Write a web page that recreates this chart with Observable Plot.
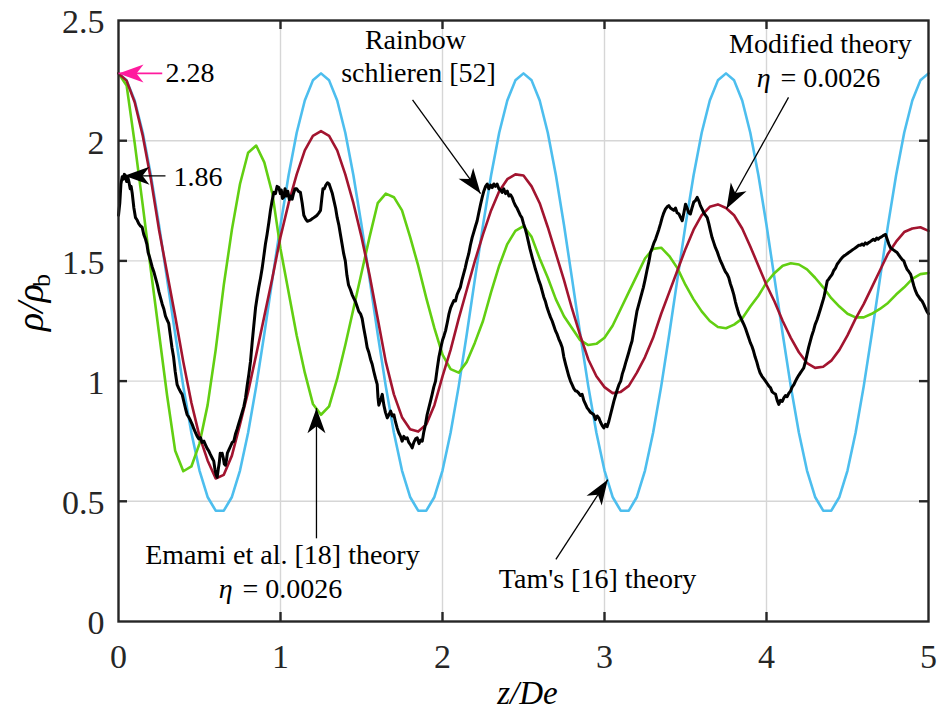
<!DOCTYPE html>
<html><head><meta charset="utf-8">
<script src="https://cdn.jsdelivr.net/npm/d3@7"></script>
<script src="https://cdn.jsdelivr.net/npm/@observablehq/plot@0.6"></script>
<style>body{margin:0;background:#fff}#chart svg{display:block}</style>
</head><body><div id="chart"></div>
<script>
const zTicks = [0, 1, 2, 3, 4, 5];
const rhoTicks = [0, 0.5, 1, 1.5, 2, 2.5];

const zTheory = [0,0.05,0.1,0.15,0.2,0.25,0.3,0.35,0.4,0.45,0.5,0.55,0.6,0.65,0.7,0.75,0.8,0.85,0.9,0.95,
1,1.05,1.1,1.15,1.2,1.25,1.3,1.35,1.4,1.45,1.5,1.55,1.6,1.65,1.7,1.75,1.8,1.85,1.9,1.95,
2,2.05,2.1,2.15,2.2,2.25,2.3,2.35,2.4,2.45,2.5,2.55,2.6,2.65,2.7,2.75,2.8,2.85,2.9,2.95,
3,3.05,3.1,3.15,3.2,3.25,3.3,3.35,3.4,3.45,3.5,3.55,3.6,3.65,3.7,3.75,3.8,3.85,3.9,3.95,
4,4.05,4.1,4.15,4.2,4.25,4.3,4.35,4.4,4.45,4.5,4.55,4.6,4.65,4.7,4.75,4.8,4.85,4.9,4.95,5];

// Tam's [16] theory
const tamRho = [2.28,2.251,2.167,2.033,1.856,1.649,1.424,1.196,0.978,0.785,0.628,0.518,0.461,0.461,0.518,0.628,0.785,0.978,1.196,1.424,1.649,1.856,2.033,2.167,2.251,
2.28,2.251,2.167,2.033,1.856,1.649,1.424,1.196,0.978,0.785,0.628,0.518,0.461,0.461,0.518,0.628,0.785,0.978,1.196,1.424,1.649,1.856,2.033,2.167,2.251,
2.28,2.251,2.167,2.033,1.856,1.649,1.424,1.196,0.978,0.785,0.628,0.518,0.461,0.461,0.518,0.628,0.785,0.978,1.196,1.424,1.649,1.856,2.033,2.167,2.251,
2.28,2.251,2.167,2.033,1.856,1.649,1.424,1.196,0.978,0.785,0.628,0.518,0.461,0.461,0.518,0.628,0.785,0.978,1.196,1.424,1.649,1.856,2.033,2.167,2.251,
2.28];

// Emami et al. [18] theory, eta = 0.0026
const emamiRho = [2.28,2.23,1.99,1.73,1.46,1.20,0.94,0.71,0.625,0.645,0.74,0.90,1.13,1.40,1.63,1.82,1.95,1.98,1.91,1.78,
1.55,1.37,1.19,1.035,0.905,0.86,0.895,1.01,1.15,1.30,1.45,1.60,1.74,1.78,1.765,1.71,1.60,1.48,1.345,1.22,
1.11,1.05,1.035,1.08,1.16,1.25,1.37,1.48,1.57,1.625,1.645,1.60,1.51,1.43,1.34,1.27,1.22,1.17,1.15,1.155,
1.18,1.23,1.30,1.37,1.44,1.51,1.55,1.555,1.52,1.47,1.40,1.34,1.29,1.25,1.225,1.22,1.235,1.26,1.31,1.355,
1.41,1.45,1.48,1.49,1.485,1.465,1.43,1.39,1.345,1.31,1.28,1.265,1.265,1.28,1.30,1.325,1.36,1.39,1.425,1.445,1.45];

// Modified theory, eta = 0.0026
const modifiedRho = [2.28,2.25,2.16,2.02,1.84,1.63,1.45,1.27,1.08,0.91,0.77,0.67,0.595,0.61,0.69,0.82,0.955,1.11,1.27,1.43,
1.60,1.74,1.86,1.96,2.02,2.04,2.02,1.96,1.86,1.74,1.60,1.44,1.26,1.08,0.945,0.85,0.80,0.79,0.82,0.90,
1.02,1.13,1.26,1.38,1.50,1.61,1.71,1.79,1.84,1.86,1.855,1.81,1.74,1.64,1.53,1.42,1.30,1.19,1.09,1.02,
0.975,0.95,0.955,0.98,1.035,1.10,1.18,1.28,1.37,1.46,1.55,1.63,1.69,1.725,1.735,1.72,1.69,1.635,1.56,1.48,
1.40,1.33,1.25,1.18,1.12,1.075,1.055,1.06,1.085,1.13,1.19,1.26,1.32,1.39,1.46,1.53,1.58,1.62,1.635,1.64,1.625];

// Rainbow schlieren [52] measurement: [z/De, rho/rho_b]
const schlierenPoints = [
[0,1.69],[0.008,1.74],[0.015,1.82],[0.023,1.85],[0.03,1.84],[0.036,1.86],[0.043,1.855],[0.05,1.83],[0.057,1.85],[0.064,1.83],
[0.072,1.80],[0.078,1.81],[0.085,1.78],[0.095,1.72],[0.105,1.68],[0.115,1.67],[0.125,1.655],[0.136,1.645],[0.146,1.64],[0.156,1.61],
[0.167,1.59],[0.175,1.57],[0.183,1.535],[0.19,1.52],[0.198,1.50],[0.208,1.475],[0.218,1.455],[0.228,1.43],[0.24,1.40],[0.25,1.37],
[0.26,1.345],[0.27,1.32],[0.28,1.30],[0.29,1.27],[0.3,1.255],[0.31,1.24],[0.32,1.19],[0.33,1.14],[0.34,1.10],[0.35,1.04],
[0.362,0.985],[0.372,0.97],[0.383,0.955],[0.393,0.945],[0.405,0.91],[0.414,0.885],[0.424,0.86],[0.434,0.85],[0.445,0.835],[0.455,0.82],
[0.466,0.80],[0.476,0.785],[0.486,0.77],[0.496,0.76],[0.506,0.765],[0.516,0.745],[0.527,0.75],[0.537,0.735],[0.547,0.72],[0.557,0.71],
[0.567,0.695],[0.578,0.68],[0.588,0.667],[0.596,0.63],[0.603,0.61],[0.609,0.60],[0.615,0.63],[0.622,0.66],[0.628,0.70],[0.634,0.69],
[0.64,0.70],[0.647,0.68],[0.653,0.655],[0.66,0.65],[0.666,0.67],[0.672,0.70],[0.682,0.715],[0.692,0.73],[0.702,0.745],[0.712,0.75],
[0.722,0.78],[0.732,0.80],[0.743,0.825],[0.753,0.847],[0.763,0.87],[0.774,0.895],[0.784,0.93],[0.794,0.98],[0.805,1.03],[0.815,1.083],
[0.825,1.16],[0.835,1.23],[0.846,1.305],[0.856,1.35],[0.866,1.39],[0.877,1.43],[0.887,1.47],[0.897,1.52],[0.907,1.57],[0.917,1.61],
[0.928,1.66],[0.938,1.71],[0.948,1.75],[0.959,1.785],[0.969,1.78],[0.979,1.81],[0.99,1.805],[0.999,1.78],[1.005,1.795],[1.012,1.76],
[1.02,1.765],[1.028,1.80],[1.036,1.77],[1.045,1.79],[1.055,1.755],[1.064,1.77],[1.072,1.757],[1.08,1.78],[1.09,1.80],[1.1,1.80],
[1.11,1.79],[1.123,1.785],[1.134,1.74],[1.144,1.69],[1.155,1.675],[1.165,1.665],[1.175,1.667],[1.185,1.67],[1.195,1.675],[1.206,1.68],
[1.216,1.685],[1.226,1.69],[1.237,1.70],[1.247,1.71],[1.255,1.76],[1.262,1.80],[1.27,1.80],[1.28,1.815],[1.29,1.825],[1.3,1.82],
[1.31,1.80],[1.32,1.78],[1.33,1.75],[1.34,1.72],[1.35,1.68],[1.36,1.65],[1.37,1.61],[1.38,1.57],[1.39,1.53],[1.4,1.50],
[1.41,1.44],[1.42,1.40],[1.432,1.38],[1.442,1.36],[1.452,1.345],[1.463,1.33],[1.473,1.31],[1.483,1.29],[1.494,1.28],[1.504,1.26],
[1.514,1.22],[1.525,1.18],[1.535,1.14],[1.545,1.12],[1.556,1.09],[1.566,1.07],[1.576,1.04],[1.587,1.01],[1.597,0.986],[1.602,0.93],
[1.607,0.90],[1.617,0.92],[1.628,0.945],[1.638,0.90],[1.648,0.87],[1.659,0.847],[1.669,0.86],[1.68,0.875],[1.69,0.855],[1.7,0.86],
[1.71,0.83],[1.72,0.805],[1.73,0.785],[1.741,0.77],[1.751,0.75],[1.761,0.77],[1.772,0.76],[1.782,0.764],[1.792,0.745],[1.803,0.735],
[1.813,0.722],[1.823,0.745],[1.834,0.76],[1.844,0.764],[1.855,0.74],[1.865,0.755],[1.875,0.75],[1.885,0.79],[1.895,0.82],[1.905,0.86],
[1.916,0.89],[1.926,0.917],[1.936,0.945],[1.946,0.975],[1.957,1.0],[1.967,1.05],[1.978,1.10],[1.99,1.14],[2.0,1.17],[2.01,1.19],
[2.019,1.21],[2.03,1.245],[2.04,1.28],[2.05,1.305],[2.06,1.32],[2.07,1.335],[2.08,1.333],[2.09,1.36],[2.1,1.375],[2.11,1.39],
[2.12,1.42],[2.13,1.445],[2.14,1.47],[2.15,1.50],[2.162,1.53],[2.172,1.565],[2.183,1.597],[2.193,1.62],[2.204,1.645],[2.214,1.667],
[2.224,1.70],[2.235,1.735],[2.245,1.764],[2.255,1.79],[2.266,1.81],[2.276,1.82],[2.286,1.80],[2.297,1.815],[2.307,1.805],[2.317,1.82],
[2.327,1.81],[2.337,1.82],[2.348,1.80],[2.358,1.795],[2.368,1.785],[2.378,1.80],[2.389,1.78],[2.4,1.79],[2.41,1.77],[2.42,1.775],
[2.43,1.764],[2.44,1.745],[2.45,1.73],[2.46,1.72],[2.47,1.705],[2.48,1.69],[2.49,1.68],[2.5,1.655],[2.51,1.635],[2.52,1.61],
[2.53,1.58],[2.54,1.55],[2.554,1.514],[2.564,1.49],[2.574,1.465],[2.584,1.444],[2.594,1.42],[2.605,1.40],[2.615,1.375],[2.625,1.35],
[2.636,1.33],[2.646,1.305],[2.656,1.285],[2.667,1.265],[2.677,1.25],[2.687,1.23],[2.697,1.21],[2.708,1.194],[2.718,1.175],[2.728,1.16],
[2.739,1.14],[2.749,1.10],[2.76,1.07],[2.77,1.045],[2.78,1.02],[2.79,1.0],[2.8,0.985],[2.81,0.97],[2.82,0.96],[2.83,0.958],
[2.841,0.95],[2.851,0.94],[2.862,0.945],[2.872,0.92],[2.882,0.905],[2.893,0.889],[2.903,0.88],[2.913,0.87],[2.924,0.865],[2.934,0.86],
[2.944,0.84],[2.955,0.855],[2.965,0.847],[2.975,0.83],[2.986,0.815],[2.996,0.805],[3.006,0.82],[3.016,0.81],[3.027,0.833],[3.037,0.86],
[3.048,0.89],[3.058,0.917],[3.068,0.94],[3.079,0.965],[3.089,0.985],[3.1,1.0],[3.11,1.03],[3.12,1.05],[3.13,1.075],[3.14,1.097],
[3.15,1.12],[3.16,1.145],[3.17,1.167],[3.18,1.21],[3.19,1.25],[3.2,1.29],[3.21,1.315],[3.22,1.34],[3.23,1.365],[3.24,1.39],
[3.25,1.42],[3.262,1.46],[3.275,1.5],[3.284,1.535],[3.295,1.555],[3.305,1.575],[3.315,1.59],[3.325,1.61],[3.335,1.63],[3.346,1.655],
[3.356,1.68],[3.366,1.70],[3.376,1.715],[3.387,1.725],[3.397,1.73],[3.407,1.72],[3.418,1.715],[3.428,1.71],[3.438,1.72],[3.448,1.70],
[3.46,1.695],[3.47,1.68],[3.48,1.667],[3.49,1.70],[3.5,1.736],[3.51,1.72],[3.52,1.70],[3.53,1.695],[3.54,1.72],[3.551,1.745],
[3.561,1.75],[3.572,1.764],[3.582,1.75],[3.592,1.73],[3.603,1.715],[3.613,1.70],[3.623,1.69],[3.634,1.68],[3.644,1.655],[3.654,1.625],
[3.664,1.597],[3.675,1.575],[3.685,1.555],[3.695,1.54],[3.705,1.52],[3.716,1.50],[3.726,1.486],[3.736,1.47],[3.746,1.455],[3.757,1.445],
[3.767,1.43],[3.777,1.405],[3.787,1.385],[3.798,1.36],[3.808,1.33],[3.818,1.305],[3.83,1.278],[3.84,1.265],[3.85,1.25],[3.86,1.236],
[3.87,1.22],[3.88,1.20],[3.89,1.18],[3.9,1.16],[3.91,1.145],[3.92,1.125],[3.93,1.10],[3.94,1.08],[3.95,1.055],[3.96,1.035],
[3.972,1.02],[3.983,1.01],[3.994,1.0],[4.004,0.99],[4.014,0.98],[4.025,0.972],[4.035,0.955],[4.045,0.95],[4.056,0.945],[4.066,0.92],
[4.076,0.903],[4.086,0.92],[4.097,0.915],[4.107,0.93],[4.117,0.94],[4.127,0.935],[4.138,0.95],[4.148,0.958],[4.158,0.975],[4.169,0.985],
[4.179,1.0],[4.19,1.014],[4.2,1.025],[4.21,1.035],[4.22,1.045],[4.23,1.055],[4.24,1.08],[4.25,1.11],[4.26,1.14],[4.27,1.165],
[4.28,1.19],[4.29,1.21],[4.3,1.235],[4.312,1.255],[4.323,1.278],[4.333,1.30],[4.344,1.325],[4.354,1.347],[4.364,1.38],[4.375,1.417],
[4.385,1.425],[4.395,1.435],[4.405,1.444],[4.415,1.46],[4.426,1.47],[4.436,1.486],[4.446,1.495],[4.457,1.505],[4.467,1.514],[4.477,1.52],
[4.488,1.525],[4.498,1.53],[4.508,1.535],[4.519,1.54],[4.529,1.545],[4.54,1.55],[4.55,1.555],[4.56,1.56],[4.57,1.565],[4.58,1.565],
[4.59,1.57],[4.6,1.565],[4.61,1.575],[4.62,1.57],[4.63,1.576],[4.64,1.58],[4.65,1.585],[4.66,1.59],[4.67,1.585],[4.68,1.595],
[4.69,1.59],[4.7,1.597],[4.71,1.60],[4.72,1.605],[4.735,1.61],[4.745,1.59],[4.755,1.57],[4.765,1.555],[4.775,1.55],[4.785,1.545],
[4.795,1.54],[4.806,1.535],[4.816,1.525],[4.827,1.515],[4.838,1.505],[4.848,1.50],[4.858,1.48],[4.868,1.465],[4.879,1.455],[4.89,1.444],
[4.9,1.42],[4.91,1.395],[4.92,1.375],[4.93,1.36],[4.94,1.35],[4.95,1.34],[4.96,1.333],[4.97,1.32],[4.98,1.305],[4.99,1.29],[5.0,1.28]
];

const colors = {tam: "#4DBEEE", emami: "#62CF12", modified: "#A2142F", schlieren: "#000000", pink: "#FF1A9E"};

// annotation texts (data coordinates)
const annotations = [
  {text: "2.28", z: 0.29, rho: 2.28, anchor: "start", italic: false},
  {text: "1.86", z: 0.34, rho: 1.85, anchor: "start", italic: false},
  {text: "Rainbow", z: 1.833, rho: 2.42, anchor: "middle", italic: false},
  {text: "schlieren [52]", z: 1.852, rho: 2.28, anchor: "middle", italic: false},
  {text: "Modified theory", z: 4.333, rho: 2.404, anchor: "middle", italic: false},
  {text: "η", z: 4.025, rho: 2.2625, anchor: "end", italic: true},
  {text: "= 0.0026", z: 4.086, rho: 2.2625, anchor: "start", italic: false},
  {text: "Emami et al. [18] theory", z: 1.012, rho: 0.275, anchor: "middle", italic: false},
  {text: "η", z: 0.705, rho: 0.133, anchor: "end", italic: true},
  {text: "= 0.0026", z: 0.765, rho: 0.133, anchor: "start", italic: false},
  {text: "Tam's [16] theory", z: 2.957, rho: 0.175, anchor: "middle", italic: false}
];
const pinkArrows = [{z1: 0.27, rho1: 2.28, z2: 0.0, rho2: 2.28}];
const blackArrows = [
  {z1: 0.29, rho1: 1.854, z2: 0.037, rho2: 1.854},
  {z1: 1.815, rho1: 2.17, z2: 2.235, rho2: 1.78},
  {z1: 4.136, rho1: 2.18, z2: 3.753, rho2: 1.717},
  {z1: 1.222, rho1: 0.346, z2: 1.222, rho2: 0.8875},
  {z1: 2.70, rho1: 0.258, z2: 3.02, rho2: 0.59}
];

const tam = zTheory.map((z, i) => ({z, rho: tamRho[i]}));
const emami = zTheory.map((z, i) => ({z, rho: emamiRho[i]}));
const modified = zTheory.map((z, i) => ({z, rho: modifiedRho[i]}));
const schlieren = schlierenPoints.map(([z, rho]) => ({z, rho}));

const FONT = "'Liberation Serif', 'Times New Roman', Times, serif";
const AXIS = "#262626";
const GRID = "#d6d6d6";

function filledHead(color) {
  const ns = "http://www.w3.org/2000/svg";
  const m = document.createElementNS(ns, "marker");
  m.setAttribute("viewBox", "-28 -11 30 22");
  m.setAttribute("markerWidth", "30");
  m.setAttribute("markerHeight", "22");
  m.setAttribute("markerUnits", "userSpaceOnUse");
  m.setAttribute("orient", "auto");
  m.setAttribute("refX", "0");
  m.setAttribute("refY", "0");
  const p = document.createElementNS(ns, "path");
  p.setAttribute("d", "M0,0L-25,-9L-18,0L-25,9Z");
  p.setAttribute("fill", color);
  p.setAttribute("stroke", "none");
  m.appendChild(p);
  return m;
}

function build(head) {
  const italicText = Plot.text(annotations.filter(d => d.italic), {
    x: "z", y: "rho", text: "text", textAnchor: "end",
    fontSize: 28, fill: "#000", lineAnchor: "middle", fontStyle: "italic"
  });
  const plain = (anchor) => Plot.text(annotations.filter(d => !d.italic && d.anchor === anchor), {
    x: "z", y: "rho", text: "text", textAnchor: anchor, fontSize: 28, fill: "#000", lineAnchor: "middle"
  });
  return Plot.plot({
    width: 937, height: 713,
    marginLeft: 118, marginRight: 9, marginTop: 20, marginBottom: 92,
    x: {domain: [0, 5]},
    y: {domain: [0, 2.5]},
    style: {fontFamily: FONT, background: "#fff", overflow: "visible"},
    marks: [
      Plot.ruleX(zTicks.slice(1, -1), {stroke: GRID, strokeWidth: 1.4}),
      Plot.ruleY(rhoTicks.slice(1, -1), {stroke: GRID, strokeWidth: 1.4}),
      Plot.line(tam, {x: "z", y: "rho", stroke: colors.tam, strokeWidth: 2.6}),
      Plot.line(emami, {x: "z", y: "rho", stroke: colors.emami, strokeWidth: 2.6}),
      Plot.line(modified, {x: "z", y: "rho", stroke: colors.modified, strokeWidth: 2.6}),
      Plot.line(schlieren, {x: "z", y: "rho", stroke: colors.schlieren, strokeWidth: 3, strokeLinejoin: "round"}),
      Plot.frame({stroke: AXIS, strokeWidth: 2.4}),
      Plot.ruleX(zTicks.slice(1, -1), {stroke: AXIS, strokeWidth: 2.4, insetTop: 592}),
      Plot.ruleX(zTicks.slice(1, -1), {stroke: AXIS, strokeWidth: 2.4, insetBottom: 592}),
      Plot.ruleY(rhoTicks.slice(1, -1), {stroke: AXIS, strokeWidth: 2.4, insetRight: 801}),
      Plot.ruleY(rhoTicks.slice(1, -1), {stroke: AXIS, strokeWidth: 2.4, insetLeft: 801}),
      Plot.axisX(zTicks, {anchor: "bottom", tickSize: 0, tickPadding: 22, fontSize: 34, color: AXIS, tickFormat: (d) => `${d}`, label: null}),
      Plot.axisY(rhoTicks, {anchor: "left", tickSize: 0, tickPadding: 14, fontSize: 34, color: AXIS, tickFormat: (d) => `${d}`, label: null, dy: 2}),
      Plot.text(["z/De"], {frameAnchor: "bottom", dx: 4, dy: 72, fontSize: 33, fontStyle: "italic", fill: "#000", lineAnchor: "middle"}),
      Plot.text(["ρ/ρ"], {frameAnchor: "left", rotate: -90, dx: -88, dy: 10, fontSize: 38, fontStyle: "italic", fill: "#000", lineAnchor: "middle"}),
      Plot.text(["b"], {frameAnchor: "left", rotate: -90, dx: -77, dy: -34, fontSize: 26, fill: "#000", lineAnchor: "middle"}),
      Plot.link(pinkArrows, {x1: "z1", y1: "rho1", x2: "z2", y2: "rho2", stroke: colors.pink, strokeWidth: 1.6, markerEnd: head}),
      Plot.link(blackArrows, {x1: "z1", y1: "rho1", x2: "z2", y2: "rho2", stroke: "#000", strokeWidth: 1.3, markerEnd: head}),
      plain("start"),
      plain("middle"),
      italicText
    ]
  });
}

let chart;
try { chart = build(filledHead); } catch (e) { chart = build("arrow"); }
document.getElementById("chart").appendChild(chart);
</script></body></html>
